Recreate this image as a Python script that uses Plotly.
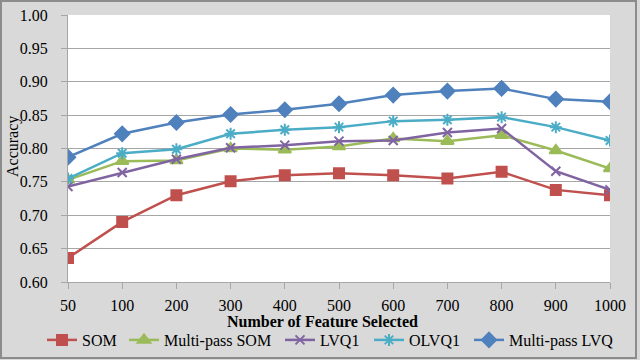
import plotly.graph_objects as go

features = ["50", "100", "200", "300", "400", "500", "600", "700", "800", "900", "1000"]

som = [0.636, 0.690, 0.730, 0.751, 0.760, 0.763, 0.760, 0.755, 0.765, 0.738, 0.730]
multipass_som = [0.753, 0.781, 0.782, 0.800, 0.798, 0.803, 0.815, 0.811, 0.820, 0.797, 0.770]
lvq1 = [0.743, 0.764, 0.784, 0.801, 0.805, 0.811, 0.812, 0.824, 0.830, 0.766, 0.738]
olvq1 = [0.755, 0.793, 0.799, 0.822, 0.828, 0.832, 0.841, 0.843, 0.847, 0.832, 0.812]
multipass_lvq = [0.787, 0.822, 0.839, 0.851, 0.858, 0.867, 0.880, 0.886, 0.890, 0.874, 0.870]

# name, values, colour, marker, size, legend x (px)
series = [
    ("SOM", som, "#c0504d", "square", 10, 42),
    ("Multi-pass SOM", multipass_som, "#9bbb59", "triangle-up", 11, 124),
    ("LVQ1", lvq1, "#8064a2", "x-thin-open", 9, 280),
    ("OLVQ1", olvq1, "#4bacc6", "asterisk-open", 10, 369),
    ("Multi-pass LVQ", multipass_lvq, "#4f81bd", "diamond", 11, 469),
]

W, H = 640, 360
L, R, T, B = 68, 30, 15, 78
pw, ph = W - L - R, H - T - B
FONT = "Times New Roman"

fig = go.Figure()
legends = {}
for i, (name, vals, color, symbol, size, lx) in enumerate(series):
    key = "legend" if i == 0 else f"legend{i + 1}"
    fig.add_trace(go.Scatter(
        x=features,
        y=vals,
        name=name,
        legend=key,
        mode="lines+markers",
        line=dict(color=color, width=2.5),
        marker=dict(symbol=symbol, size=size, color=color,
                    line=dict(color=color, width=2)),
    ))
    # one legend box per entry so the row keeps the original spacing
    legends[key] = dict(orientation="h", xref="container", x=lx / W, xanchor="left",
                        yref="container", y=(H - 340) / H, yanchor="middle",
                        bgcolor="rgba(0,0,0,0)", borderwidth=0,
                        font=dict(family=FONT, size=16, color="black"), itemwidth=30)

fig.update_layout(
    width=W, height=H,
    margin=dict(l=L, r=R, t=T, b=B, autoexpand=False),
    paper_bgcolor="#d9d9d9",
    plot_bgcolor="white",
    font=dict(family=FONT, size=16, color="black"),
    showlegend=True,
    **legends,
)

fig.update_xaxes(
    type="category", range=[0, 10],
    showgrid=False, showline=True, linecolor="#a6a6a6", linewidth=1,
    ticks="outside", ticklen=6, tickcolor="#a6a6a6",
    ticklabelstandoff=3,
    tickfont=dict(family=FONT, size=16, color="black"),
)
fig.update_yaxes(
    range=[0.60, 1.00], dtick=0.05, tickformat=".2f",
    showgrid=True, gridcolor="#a6a6a6", gridwidth=1,
    showline=True, linecolor="#a6a6a6", linewidth=1,
    ticks="outside", ticklen=6, tickcolor="#a6a6a6",
    ticklabelstandoff=10,
    zeroline=False,
    tickfont=dict(family=FONT, size=16, color="black"),
)

# axis titles placed as in the original (tucked close to the tick labels)
fig.add_annotation(text="<b>Number of Feature Selected</b>", xref="paper", yref="paper",
                   x=(322 - L) / pw, y=(H - B - 321) / ph, showarrow=False,
                   xanchor="center", yanchor="middle",
                   font=dict(family=FONT, size=16, color="black"))
fig.add_annotation(text="Accuracy", xref="paper", yref="paper",
                   x=(13 - L) / pw, y=(H - B - 147) / ph, showarrow=False,
                   textangle=-90, xanchor="center", yanchor="middle",
                   font=dict(family=FONT, size=16, color="black"))

# outer border of the chart box
fig.add_shape(type="rect", xref="paper", yref="paper",
              x0=(1 - L) / pw, x1=(636 - L) / pw,
              y0=(H - B - 358) / ph, y1=(H - B - 1) / ph,
              line=dict(color="#8c8c8c", width=2), layer="below")

# drop the browser's default body margin so the chart sits at the page corner
fig.write_html("out.html", config={"displayModeBar": False},
               post_script="document.body.style.margin='0';")
